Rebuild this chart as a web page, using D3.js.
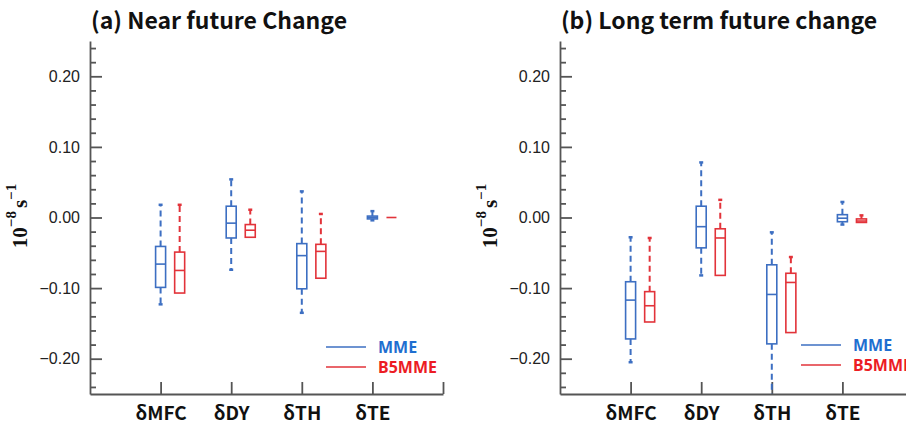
<!DOCTYPE html>
<html>
<head>
<meta charset="utf-8">
<script src="https://cdn.jsdelivr.net/npm/d3@7"></script>
<style>
  body { margin: 0; background: #fff; }
  svg { display: block; }
  .axis path, .axis line { stroke: #555; stroke-width: 1.8; }
  .axis text { font-family: "Liberation Sans", Arial, sans-serif; font-size: 16px; fill: #222; }
  .xaxis text { font-family: "Noto Sans CJK KR", "Noto Sans", sans-serif; font-weight: bold; font-size: 19px; fill: #111; }
</style>
</head>
<body>
<svg id="chart" width="906" height="428"></svg>
<script>
const categories = ['δMFC', 'δDY', 'δTH', 'δTE'];
const yMajorTicks = [-0.2, -0.1, 0, 0.1, 0.2];
const yMinorTicks = [-0.24, -0.22, -0.18, -0.16, -0.14, -0.12, -0.08, -0.06, -0.04, -0.02,
                     0.02, 0.04, 0.06, 0.08, 0.12, 0.14, 0.16, 0.18, 0.22, 0.24];
const seriesNames = ['MME', 'B5MME'];
const seriesColours = ['#3d6fc2', '#e2333a'];
const legendColours = ['#1f6fd0', '#ec1c24'];

// each entry: [lower whisker, q1, median, q3, upper whisker]
const nearMME = [
  [-0.123, -0.099, -0.066, -0.041, 0.018],
  [-0.074, -0.029, -0.008, 0.016, 0.054],
  [-0.135, -0.101, -0.054, -0.037, 0.037],
  [-0.004, -0.002, 0.000, 0.002, 0.009]
];
const nearB5MME = [
  [-0.107, -0.107, -0.075, -0.049, 0.018],
  [-0.028, -0.028, -0.018, -0.010, 0.011],
  [-0.086, -0.086, -0.048, -0.038, 0.005],
  [0.000, 0.000, 0.000, 0.000, 0.000]
];
const longMME = [
  [-0.205, -0.172, -0.117, -0.091, -0.028],
  [-0.082, -0.043, -0.013, 0.016, 0.078],
  [-0.250, -0.179, -0.109, -0.067, -0.021],
  [-0.010, -0.006, -0.001, 0.004, 0.022]
];
const longB5MME = [
  [-0.148, -0.148, -0.125, -0.105, -0.029],
  [-0.082, -0.082, -0.029, -0.016, 0.025],
  [-0.163, -0.163, -0.092, -0.079, -0.056],
  [-0.007, -0.007, -0.005, -0.002, 0.003]
];

const svg = d3.select('#chart');

function drawPanel(opts) {
  const x = d3.scaleLinear().domain([0, 5]).range([opts.left, opts.left + 353]);
  const y = d3.scaleLinear().domain([-0.25, 0.25]).range([394, 41]);
  const g = svg.append('g');

  // title
  g.append('text')
      .attr('x', opts.titleX)
      .attr('y', 29)
      .attr('text-anchor', 'middle')
      .style('font-family', '"Noto Sans CJK KR", "Noto Sans", sans-serif')
      .style('font-weight', 'bold')
      .style('font-size', '23px')
      .style('fill', '#111')
      .text(opts.title);

  // y axis, ticks pointing inward
  g.append('g')
      .attr('class', 'axis')
      .attr('transform', `translate(${opts.left},0)`)
      .call(d3.axisLeft(y).tickValues(yMajorTicks).tickSize(-12).tickSizeOuter(0).tickPadding(10)
        .tickFormat(d3.format('.2f')));

  g.append('g')
      .attr('class', 'axis')
      .attr('transform', `translate(${opts.left},0)`)
      .call(d3.axisLeft(y).tickValues(yMinorTicks).tickSize(-6).tickFormat(''))
      .call(a => a.select('.domain').remove());

  // x axis
  g.append('g')
      .attr('class', 'axis xaxis')
      .attr('transform', 'translate(0,394)')
      .call(d3.axisBottom(x).tickValues([1, 2, 3, 4, 5]).tickSize(-12).tickSizeOuter(0).tickPadding(13)
        .tickFormat(d => categories[d - 1] || ''));

  // y label
  const lab = g.append('text')
      .attr('transform', `translate(${opts.left - 68},216) rotate(-90)`)
      .attr('text-anchor', 'middle')
      .attr('dominant-baseline', 'middle')
      .style('font-family', '"Liberation Serif", "Times New Roman", serif')
      .style('font-weight', 'bold')
      .style('font-size', '21px')
      .style('fill', '#111');
  lab.append('tspan').text('10');
  lab.append('tspan').attr('dy', -9).style('font-size', '15px').text('−8');
  lab.append('tspan').attr('dy', 9).attr('dx', 3).text('s');
  lab.append('tspan').attr('dy', -9).style('font-size', '15px').text('−1');

  // boxes
  const series = [opts.mme, opts.b5];
  const offsets = [0, 0.27];
  const boxW = 10;
  series.forEach(function(data, si) {
    const colour = seriesColours[si];
    const sg = g.append('g');
    data.forEach(function(d, i) {
      const cx = x(i + 1 + offsets[si]);
      const lo = Math.max(d[0], -0.25);
      // upper whisker
      if (d[4] > d[3]) {
        sg.append('line')
            .attr('x1', cx).attr('x2', cx)
            .attr('y1', y(d[3])).attr('y2', y(d[4]))
            .attr('stroke', colour).attr('stroke-width', 2)
            .attr('stroke-dasharray', '6,4');
        sg.append('line')
            .attr('x1', cx - 2).attr('x2', cx + 2)
            .attr('y1', y(d[4])).attr('y2', y(d[4]))
            .attr('stroke', colour).attr('stroke-width', 2.5);
      }
      // lower whisker
      if (lo < d[1]) {
        sg.append('line')
            .attr('x1', cx).attr('x2', cx)
            .attr('y1', y(d[1])).attr('y2', y(lo))
            .attr('stroke', colour).attr('stroke-width', 2)
            .attr('stroke-dasharray', '6,4');
        if (d[0] > -0.25) {
          sg.append('line')
              .attr('x1', cx - 2).attr('x2', cx + 2)
              .attr('y1', y(lo)).attr('y2', y(lo))
              .attr('stroke', colour).attr('stroke-width', 2.5);
        }
      }
      sg.append('rect')
          .attr('x', cx - boxW / 2)
          .attr('y', y(d[3]))
          .attr('width', boxW)
          .attr('height', y(d[1]) - y(d[3]))
          .attr('fill', 'white')
          .attr('stroke', colour)
          .attr('stroke-width', 1.6);
      sg.append('line')
          .attr('x1', cx - boxW / 2).attr('x2', cx + boxW / 2)
          .attr('y1', y(d[2])).attr('y2', y(d[2]))
          .attr('stroke', colour).attr('stroke-width', 1.6);
    });
  });

  // legend
  seriesNames.forEach(function(name, i) {
    const ly = opts.legendY + i * 20;
    g.append('line')
        .attr('x1', opts.legendX).attr('x2', opts.legendX + 40)
        .attr('y1', ly).attr('y2', ly)
        .attr('stroke', seriesColours[i]).attr('stroke-width', 1.6);
    g.append('text')
        .attr('x', opts.legendX + 52)
        .attr('y', ly + 5.5)
        .style('font-family', '"Noto Sans", sans-serif')
        .style('font-weight', 'bold')
        .style('font-size', '16px')
        .style('fill', legendColours[i])
        .text(name);
  });
}

drawPanel({
  left: 90, title: '(a) Near future Change', titleX: 219,
  mme: nearMME, b5: nearB5MME, legendX: 326, legendY: 347
});
drawPanel({
  left: 560, title: '(b) Long term future change', titleX: 719,
  mme: longMME, b5: longB5MME, legendX: 801, legendY: 345
});
</script>
</body>
</html>
